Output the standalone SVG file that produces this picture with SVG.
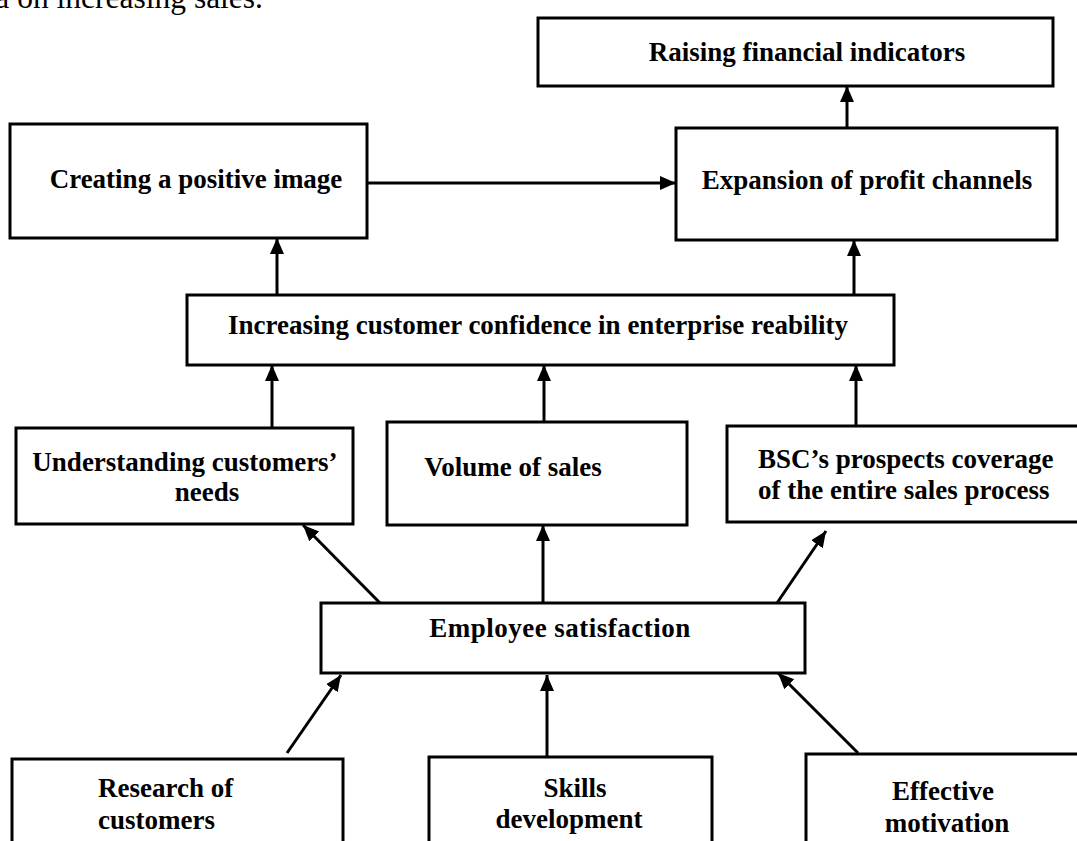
<svg xmlns="http://www.w3.org/2000/svg" width="1077" height="841" viewBox="0 0 1077 841">
<style>
.box{fill:#fff;stroke:#000;stroke-width:3}
.t{font-family:"Liberation Serif","Times New Roman",serif;font-weight:bold;font-size:27px;fill:#000}
.m{text-anchor:middle}
.c{stroke:#000;stroke-width:3;fill:none;marker-end:url(#ah)}
</style>
<defs>
<marker id="ah" markerUnits="userSpaceOnUse" markerWidth="17" markerHeight="17" viewBox="0 0 17 17" refX="16" refY="8.5" orient="auto">
<path d="M0,1.5 L16,8.5 L0,15.5 Z" fill="#000"/>
</marker>
</defs>
<rect width="1077" height="841" fill="#fff"/>
<text x="263" y="8" font-family="Liberation Serif, serif" font-size="31.5" text-anchor="end" fill="#000">a on increasing sales.</text>

<g id="raising"><rect class="box" x="538" y="18" width="515" height="68"/><text class="t m" x="807" y="61">Raising financial indicators</text></g>
<g id="expansion"><rect class="box" x="676" y="128" width="381" height="112"/><text class="t m" x="867" y="189">Expansion of profit channels</text></g>
<g id="creating"><rect class="box" x="10" y="124" width="357" height="114"/><text class="t m" x="196" y="188">Creating a positive image</text></g>
<g id="confidence"><rect class="box" x="187" y="295" width="707" height="70"/><text class="t m" x="538" y="334">Increasing customer confidence in enterprise reability</text></g>
<g id="understanding"><rect class="box" x="16" y="428" width="337" height="96"/><text class="t m" x="185" y="471">Understanding customers’</text><text class="t m" x="207" y="501">needs</text></g>
<g id="volume"><rect class="box" x="387" y="422" width="300" height="103"/><text class="t m" x="513" y="476">Volume of sales</text></g>
<g id="bsc"><rect class="box" x="727" y="426" width="360" height="96"/><text class="t" x="758" y="468">BSC’s prospects coverage</text><text class="t" x="758" y="499">of the entire sales process</text></g>
<g id="employee"><rect class="box" x="321" y="603" width="484" height="70"/><text class="t m" x="560" y="637" letter-spacing="0.5">Employee satisfaction</text></g>
<g id="research"><rect class="box" x="12" y="759" width="331" height="95"/><text class="t" x="98" y="797">Research of</text><text class="t" x="98" y="829">customers</text></g>
<g id="skills"><rect class="box" x="429" y="757" width="283" height="95"/><text class="t m" x="575" y="797">Skills</text><text class="t m" x="569" y="828">development</text></g>
<g id="effective"><rect class="box" x="806" y="754" width="290" height="98"/><text class="t m" x="943" y="800">Effective</text><text class="t m" x="947" y="832">motivation</text></g>

<g id="connectors">
<line class="c" x1="847" y1="128" x2="847" y2="86"/>
<line class="c" x1="367" y1="183" x2="676" y2="183"/>
<line class="c" x1="277" y1="295" x2="277" y2="238"/>
<line class="c" x1="854" y1="295" x2="854" y2="240"/>
<line class="c" x1="272" y1="428" x2="272" y2="365"/>
<line class="c" x1="544" y1="422" x2="544" y2="365"/>
<line class="c" x1="856" y1="426" x2="856" y2="365"/>
<line class="c" x1="380" y1="603" x2="303" y2="525"/>
<line class="c" x1="543" y1="603" x2="543" y2="525"/>
<line class="c" x1="777" y1="603" x2="826" y2="531"/>
<line class="c" x1="287" y1="753" x2="341" y2="675"/>
<line class="c" x1="547" y1="757" x2="547" y2="675"/>
<line class="c" x1="858" y1="753" x2="778" y2="673"/>
</g>
</svg>
